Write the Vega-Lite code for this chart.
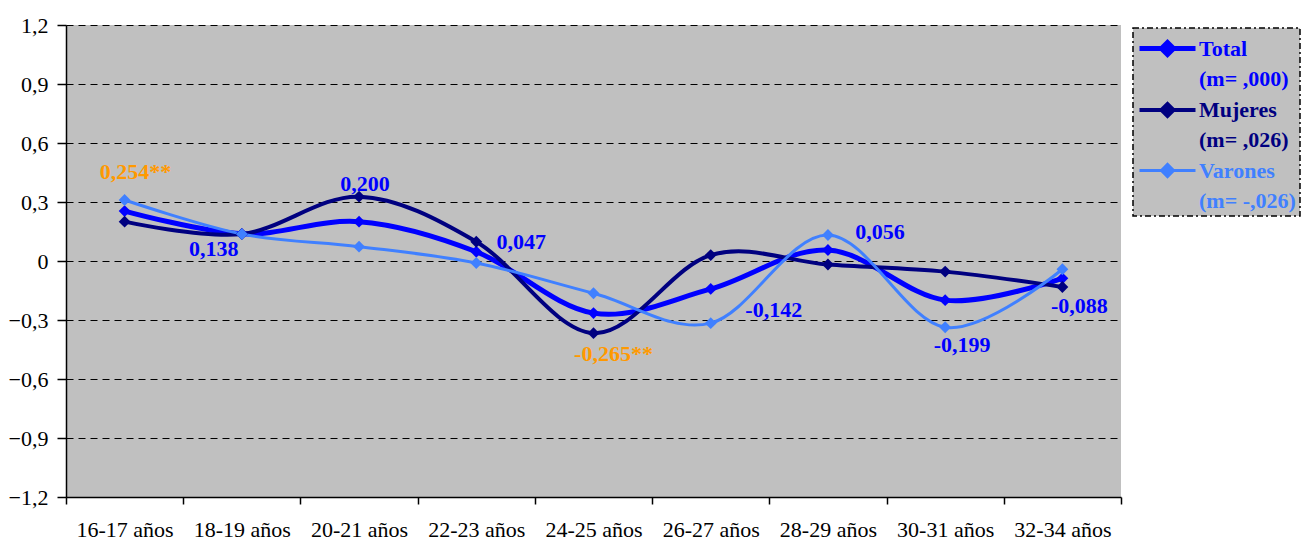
{
  "$schema": "https://vega.github.io/schema/vega-lite/v6.json",
  "width": 1055,
  "height": 472,
  "autosize": "none",
  "padding": {"left": 66, "top": 25, "right": 193, "bottom": 47},
  "background": "white",
  "config": {
    "view": {"fill": "#C0C0C0", "stroke": null},
    "font": "Times New Roman"
  },
  "datasets": {
    "series": [
      {"edad": "16-17 años", "serie": "Total", "valor": 0.254},
      {"edad": "18-19 años", "serie": "Total", "valor": 0.138},
      {"edad": "20-21 años", "serie": "Total", "valor": 0.200},
      {"edad": "22-23 años", "serie": "Total", "valor": 0.047},
      {"edad": "24-25 años", "serie": "Total", "valor": -0.265},
      {"edad": "26-27 años", "serie": "Total", "valor": -0.142},
      {"edad": "28-29 años", "serie": "Total", "valor": 0.056},
      {"edad": "30-31 años", "serie": "Total", "valor": -0.199},
      {"edad": "32-34 años", "serie": "Total", "valor": -0.088},
      {"edad": "16-17 años", "serie": "Mujeres", "valor": 0.200},
      {"edad": "18-19 años", "serie": "Mujeres", "valor": 0.137},
      {"edad": "20-21 años", "serie": "Mujeres", "valor": 0.327},
      {"edad": "22-23 años", "serie": "Mujeres", "valor": 0.098},
      {"edad": "24-25 años", "serie": "Mujeres", "valor": -0.367},
      {"edad": "26-27 años", "serie": "Mujeres", "valor": 0.030},
      {"edad": "28-29 años", "serie": "Mujeres", "valor": -0.018},
      {"edad": "30-31 años", "serie": "Mujeres", "valor": -0.054},
      {"edad": "32-34 años", "serie": "Mujeres", "valor": -0.132},
      {"edad": "16-17 años", "serie": "Varones", "valor": 0.310},
      {"edad": "18-19 años", "serie": "Varones", "valor": 0.137},
      {"edad": "20-21 años", "serie": "Varones", "valor": 0.073},
      {"edad": "22-23 años", "serie": "Varones", "valor": -0.010},
      {"edad": "24-25 años", "serie": "Varones", "valor": -0.164},
      {"edad": "26-27 años", "serie": "Varones", "valor": -0.316},
      {"edad": "28-29 años", "serie": "Varones", "valor": 0.132},
      {"edad": "30-31 años", "serie": "Varones", "valor": -0.337},
      {"edad": "32-34 años", "serie": "Varones", "valor": -0.042}
    ],
    "etiquetas": [
      {"edad": "16-17 años", "valor": 0.254, "texto": "0,254**"},
      {"edad": "18-19 años", "valor": 0.138, "texto": "0,138"},
      {"edad": "20-21 años", "valor": 0.200, "texto": "0,200"},
      {"edad": "22-23 años", "valor": 0.047, "texto": "0,047"},
      {"edad": "24-25 años", "valor": -0.265, "texto": "-0,265**"},
      {"edad": "26-27 años", "valor": -0.142, "texto": "-0,142"},
      {"edad": "28-29 años", "valor": 0.056, "texto": "0,056"},
      {"edad": "30-31 años", "valor": -0.199, "texto": "-0,199"},
      {"edad": "32-34 años", "valor": -0.088, "texto": "-0,088"}
    ]
  },
  "layer": [
    {
      "mark": {"type": "rule", "color": "black", "strokeWidth": 1.5},
      "encoding": {"y": {"datum": 0, "type": "quantitative"}}
    },
    {
      "data": {"name": "series"},
      "encoding": {
        "x": {
          "field": "edad", "type": "nominal",
          "sort": ["16-17 años", "18-19 años", "20-21 años", "22-23 años", "24-25 años", "26-27 años", "28-29 años", "30-31 años", "32-34 años"],
          "scale": {"type": "band", "paddingInner": 0, "paddingOuter": 0},
          "axis": {"title": null, "labelAngle": 0, "tickBand": "extent", "grid": false, "domainColor": "black", "domainWidth": 1.5, "tickColor": "black", "tickWidth": 1.5, "tickSize": 7, "labelFont": "Times New Roman", "labelFontSize": 22, "labelColor": "black", "labelPadding": 15}
        },
        "y": {
          "field": "valor", "type": "quantitative",
          "scale": {"domain": [-1.2, 1.2], "nice": false, "zero": false},
          "axis": {"title": null, "values": [-1.2, -0.9, -0.6, -0.3, 0, 0.3, 0.6, 0.9, 1.2], "labelExpr": "datum.value == 0 ? '0' : replace(format(datum.value, '.1f'), '.', ',')", "grid": true, "gridColor": "black", "gridDash": [7, 5], "gridOpacity": 1, "domainColor": "black", "domainWidth": 1.5, "tickColor": "black", "tickWidth": 1.5, "tickSize": 9, "labelFont": "Times New Roman", "labelFontSize": 22, "labelColor": "black", "labelPadding": 9}
        }
      },
      "layer": [
        {
          "mark": {"type": "line", "interpolate": "cardinal"},
          "encoding": {
            "color": {
              "field": "serie", "type": "nominal",
              "scale": {"domain": ["Total", "Mujeres", "Varones"], "range": ["#0000FF", "#000080", "#4080FF"]},
              "legend": {
                "orient": "none", "legendX": 1067, "legendY": 3, "title": null,
                "fillColor": "#C0C0C0", "strokeColor": "black",
                "padding": 4,
                "symbolType": "M-1,0L3,0M0.57,0L1,-0.43L1.43,0L1,0.43Z",
                "symbolSize": 784, "symbolStrokeWidth": 4,
                "labelFont": "Times New Roman", "labelFontSize": 22, "labelFontWeight": "bold", "labelLimit": 300, "labelOffset": 29,
                "rowPadding": 4,
                "labelExpr": "datum.value == 'Total' ? ['Total', '(m= ,000)'] : datum.value == 'Mujeres' ? ['Mujeres', '(m= ,026)'] : ['Varones', '(m= -,026)']",
                "encode": {
                  "legend": {"update": {"strokeDash": {"value": [6, 3, 2, 3]}, "strokeWidth": {"value": 1.5}}},
                  "symbols": {"update": {"strokeWidth": {"scale": "strokeWidth", "field": "value"}}},
                  "labels": {"update": {"fill": {"scale": "color", "field": "value"}, "lineHeight": {"value": 30}}}
                }
              }
            },
            "strokeWidth": {
              "field": "serie", "type": "nominal",
              "scale": {"domain": ["Total", "Mujeres", "Varones"], "range": [5, 3, 3.5]},
              "legend": null
            }
          }
        },
        {
          "mark": {"type": "point", "shape": "diamond", "filled": true, "opacity": 1, "size": 140},
          "encoding": {
            "color": {"field": "serie", "type": "nominal"}
          }
        },
        {
          "data": {"name": "etiquetas"},
          "transform": [{"filter": "datum.edad == '16-17 años'"}],
          "mark": {"type": "text", "font": "Times New Roman", "fontSize": 22, "fontWeight": "bold", "dx": 11, "dy": -39},
          "encoding": {"text": {"field": "texto"}, "color": {"condition": {"test": "indexof(datum.texto, '**') >= 0", "value": "#FF9900"}, "value": "#0000FF"}}
        },
        {
          "data": {"name": "etiquetas"},
          "transform": [{"filter": "datum.edad == '18-19 años'"}],
          "mark": {"type": "text", "font": "Times New Roman", "fontSize": 22, "fontWeight": "bold", "dx": -28, "dy": 15},
          "encoding": {"text": {"field": "texto"}, "color": {"condition": {"test": "indexof(datum.texto, '**') >= 0", "value": "#FF9900"}, "value": "#0000FF"}}
        },
        {
          "data": {"name": "etiquetas"},
          "transform": [{"filter": "datum.edad == '20-21 años'"}],
          "mark": {"type": "text", "font": "Times New Roman", "fontSize": 22, "fontWeight": "bold", "dx": 6, "dy": -38},
          "encoding": {"text": {"field": "texto"}, "color": {"condition": {"test": "indexof(datum.texto, '**') >= 0", "value": "#FF9900"}, "value": "#0000FF"}}
        },
        {
          "data": {"name": "etiquetas"},
          "transform": [{"filter": "datum.edad == '22-23 años'"}],
          "mark": {"type": "text", "font": "Times New Roman", "fontSize": 22, "fontWeight": "bold", "dx": 45, "dy": -10},
          "encoding": {"text": {"field": "texto"}, "color": {"condition": {"test": "indexof(datum.texto, '**') >= 0", "value": "#FF9900"}, "value": "#0000FF"}}
        },
        {
          "data": {"name": "etiquetas"},
          "transform": [{"filter": "datum.edad == '24-25 años'"}],
          "mark": {"type": "text", "font": "Times New Roman", "fontSize": 22, "fontWeight": "bold", "dx": 20, "dy": 41},
          "encoding": {"text": {"field": "texto"}, "color": {"condition": {"test": "indexof(datum.texto, '**') >= 0", "value": "#FF9900"}, "value": "#0000FF"}}
        },
        {
          "data": {"name": "etiquetas"},
          "transform": [{"filter": "datum.edad == '26-27 años'"}],
          "mark": {"type": "text", "font": "Times New Roman", "fontSize": 22, "fontWeight": "bold", "dx": 63, "dy": 21},
          "encoding": {"text": {"field": "texto"}, "color": {"condition": {"test": "indexof(datum.texto, '**') >= 0", "value": "#FF9900"}, "value": "#0000FF"}}
        },
        {
          "data": {"name": "etiquetas"},
          "transform": [{"filter": "datum.edad == '28-29 años'"}],
          "mark": {"type": "text", "font": "Times New Roman", "fontSize": 22, "fontWeight": "bold", "dx": 52, "dy": -18},
          "encoding": {"text": {"field": "texto"}, "color": {"condition": {"test": "indexof(datum.texto, '**') >= 0", "value": "#FF9900"}, "value": "#0000FF"}}
        },
        {
          "data": {"name": "etiquetas"},
          "transform": [{"filter": "datum.edad == '30-31 años'"}],
          "mark": {"type": "text", "font": "Times New Roman", "fontSize": 22, "fontWeight": "bold", "dx": 17, "dy": 45},
          "encoding": {"text": {"field": "texto"}, "color": {"condition": {"test": "indexof(datum.texto, '**') >= 0", "value": "#FF9900"}, "value": "#0000FF"}}
        },
        {
          "data": {"name": "etiquetas"},
          "transform": [{"filter": "datum.edad == '32-34 años'"}],
          "mark": {"type": "text", "font": "Times New Roman", "fontSize": 22, "fontWeight": "bold", "dx": 17, "dy": 28},
          "encoding": {"text": {"field": "texto"}, "color": {"condition": {"test": "indexof(datum.texto, '**') >= 0", "value": "#FF9900"}, "value": "#0000FF"}}
        }
      ]
    }
  ]
}
